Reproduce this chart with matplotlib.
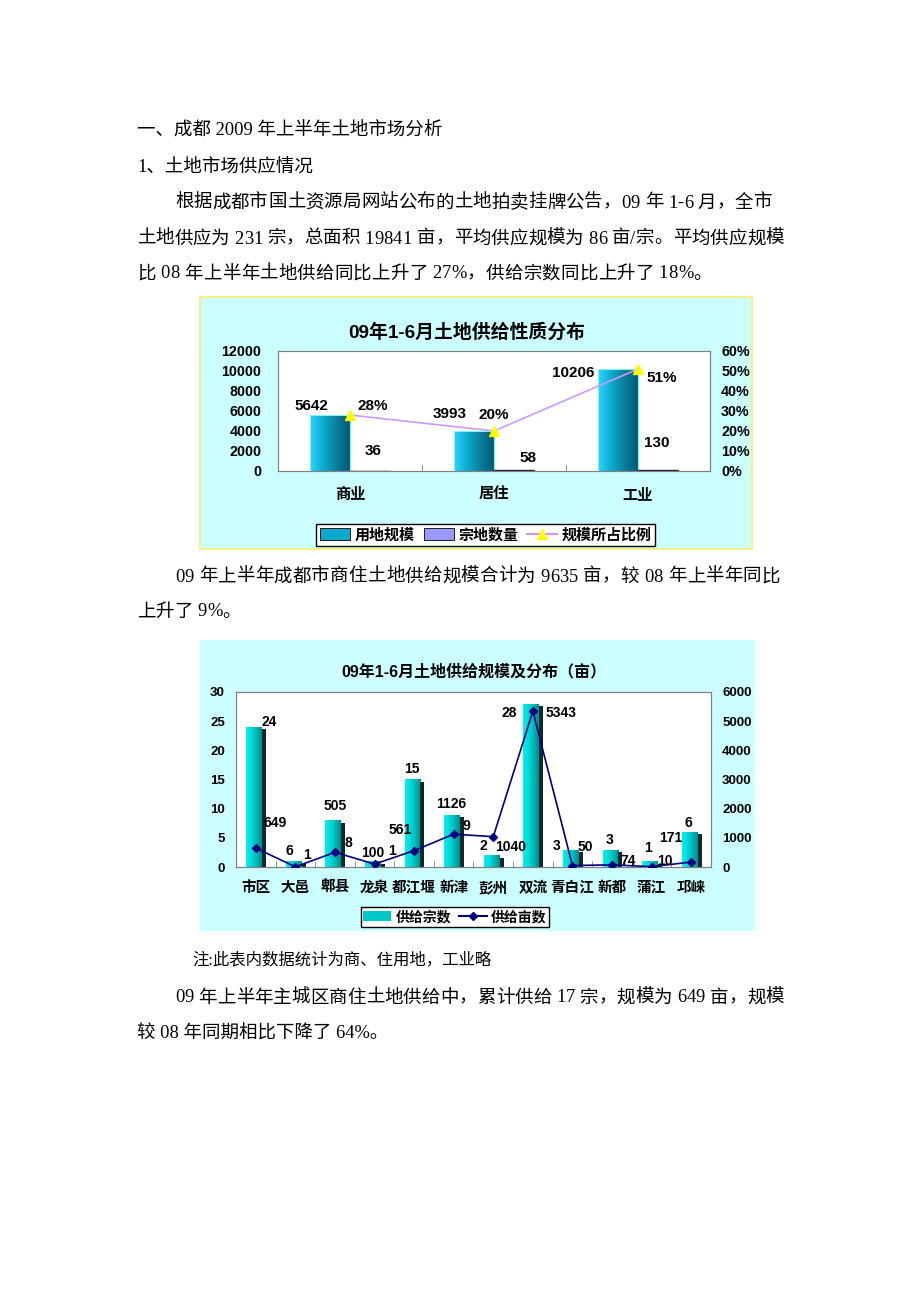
import numpy as np
import matplotlib
matplotlib.use("Agg")
import matplotlib.pyplot as plt
from matplotlib.colors import LinearSegmentedColormap
from matplotlib.patches import Patch
from matplotlib.lines import Line2D

# ---- data ----
supply_types = ['商业', '居住', '工业']
supply_area = [5642, 3993, 10206]
supply_count = [36, 58, 130]
supply_share = [0.28, 0.20, 0.51]

districts = ['市区', '大邑', '郫县', '龙泉', '都江堰', '新津', '彭州', '双流', '青白江', '新都', '蒲江', '邛崃']
district_count = [24, 1, 8, 1, 15, 9, 2, 28, 3, 3, 1, 6]
district_area = [649, 6, 505, 100, 561, 1126, 1040, 5343, 50, 74, 10, 171]

# label offsets in pixels (the source chart places them by hand)
area_off1 = [(-18, 9), (-24, 17), (-45, -4)]
share_off1 = [(23, 9), (0, 16), (24, -9)]
count_off1 = [(3, 20), (14, 12), (-1, 27)]
count_off2 = [(13, 5), (12, 6), (13, -23), (17, 10), (-2, 10), (13, -11),
              (-10, 9), (-24, -9), (-16, 4), (-2, 10), (-4, 13), (-3, 9)]
area_off2 = [(19, 25), (-6, 16), (0, 46), (-2, 11), (-14, 21), (-3, 30),
             (17, -10), (28, -2), (13, 19), (16, 4), (13, 6), (-20, 24)]

BODY_FONT = ['Liberation Serif', 'Noto Sans CJK SC']
CHART_FONT = ['Liberation Sans', 'Noto Sans CJK SC']

W, H = 920, 1302
fig = plt.figure(figsize=(W / 100, H / 100), dpi=100)
fig.patch.set_facecolor('white')


def fbox(x0, y0, x1, y1):
    return [x0 / W, 1 - y1 / H, (x1 - x0) / W, (y1 - y0) / H]


def put_line(s, x, y, size=13.3, x_end=None):
    # body text line; if x_end is given, spread the characters to fill it
    if x_end is None:
        fig.text(x / W, 1 - y / H, s, fontsize=size, family=BODY_FONT, va='center', ha='left')
        return
    r = fig.canvas.get_renderer()
    widths = []
    for ch in s:
        if ch == ' ':
            widths.append(size * 0.25 * 100 / 72)
            continue
        t = fig.text(0, 0, ch, fontsize=size, family=BODY_FONT)
        widths.append(t.get_window_extent(r).width)
        t.remove()
    gap = (x_end - x - sum(widths)) / (len(s) - 1)
    cx = x
    for ch, w in zip(s, widths):
        if ch != ' ':
            fig.text(cx / W, 1 - y / H, ch, fontsize=size, family=BODY_FONT, va='center', ha='left')
        cx += w + gap


def gradient_bar(ax, x, h, w, cmap, z=2):
    bar = ax.bar(x, h, w, align='edge', color='none', edgecolor='none', zorder=z)[0]
    grad = np.linspace(0, 1, 64).reshape(1, -1)
    im = ax.imshow(grad, extent=[x, x + w, 0, h], aspect='auto', cmap=cmap,
                   interpolation='bilinear', zorder=z)
    im.set_clip_path(bar)
    return bar


# ---- body text ----
put_line('一、成都 2009 年上半年土地市场分析', 137, 130)
put_line('1、土地市场供应情况', 137, 168)
put_line('根据成都市国土资源局网站公布的土地拍卖挂牌公告，09 年 1-6 月，全市', 175, 203, x_end=772)
put_line('土地供应为 231 宗，总面积 19841 亩，平均供应规模为 86 亩/宗。平均供应规模', 137, 239, x_end=784)
put_line('比 08 年上半年土地供给同比上升了 27%，供给宗数同比上升了 18%。', 137, 274, x_end=712)
put_line('09 年上半年成都市商住土地供给规模合计为 9635 亩，较 08 年上半年同比', 175, 577, x_end=780)
put_line('上升了 9%。', 137, 612, x_end=241)
put_line('注:此表内数据统计为商、住用地，工业略', 192, 960, size=11.8)
put_line('09 年上半年主城区商住土地供给中，累计供给 17 宗，规模为 649 亩，规模', 175, 998, x_end=784)
put_line('较 08 年同期相比下降了 64%。', 137, 1034)

# ---- chart 1 ----
bg1 = fig.add_axes(fbox(200, 297, 752, 549), zorder=0)
bg1.set_facecolor('#CCFFFF')
bg1.set_xticks([])
bg1.set_yticks([])
for s in bg1.spines.values():
    s.set_color('#F5F08A')
    s.set_linestyle((0, (2, 1)))
    s.set_linewidth(1.5)

fig.text(467 / W, 1 - 332 / H, '09年1-6月土地供给性质分布', fontsize=13.6, fontweight='bold',
         family=CHART_FONT, ha='center', va='center')

cmap1 = LinearSegmentedColormap.from_list('c1', ['#2AD4FF', '#0CA8CC', '#0A7C99', '#005A70'])
ax1 = fig.add_axes(fbox(278, 351, 710, 471), zorder=1)
ax1.set_facecolor('white')
x1 = np.arange(len(supply_types))
for i in range(len(supply_types)):
    gradient_bar(ax1, x1[i] - 0.28, supply_area[i], 0.28, cmap1)
    ax1.bar(x1[i] - 0.28, supply_area[i], 0.28, align='edge', color='none',
            edgecolor='#7FF5FF', linewidth=0.8, zorder=3)
ax1.bar(x1, supply_count, 0.28, align='edge', color='#9999FF', edgecolor='#202040',
        linewidth=1, zorder=3)
ax1.set_xlim(-0.5, 2.5)
ax1.set_ylim(0, 12000)
ax1.set_yticks(range(0, 12001, 2000))
ax1.set_xticks(x1)
ax1.set_xticklabels(supply_types)
ax1.set_xticks([0.5, 1.5], minor=True)
ax1.tick_params(axis='x', which='major', length=0, pad=12)
ax1.tick_params(axis='x', which='minor', length=4, direction='in', color='#808080')
ax1.tick_params(axis='y', length=0, pad=12)
for lab in ax1.get_xticklabels() + ax1.get_yticklabels():
    lab.set_fontweight('bold')
    lab.set_family(CHART_FONT)
    lab.set_fontsize(11 if lab in ax1.get_xticklabels() else 10.3)

ax1r = ax1.twinx()
ax1r.plot(x1, supply_share, color='#CC99FF', linewidth=1.2, marker='^', markersize=7,
          markerfacecolor='#FFFF00', markeredgecolor='#FFFF00', zorder=4)
ax1r.set_ylim(0, 0.6)
ax1r.set_yticks(np.arange(0, 0.61, 0.1))
ax1r.set_yticklabels([f'{v}%' for v in range(0, 61, 10)])
ax1r.tick_params(axis='y', length=0, pad=8)
for lab in ax1r.get_yticklabels():
    lab.set_fontweight('bold')
    lab.set_family(CHART_FONT)
    lab.set_fontsize(10.3)
for a in (ax1, ax1r):
    for s in a.spines.values():
        s.set_color('#808080')

lab_kw = dict(textcoords='offset pixels', ha='center', va='center', fontsize=11,
              fontweight='bold', family=CHART_FONT, zorder=6)
for i in range(len(supply_types)):
    ax1.annotate(str(supply_area[i]), (x1[i] - 0.14, supply_area[i]), xytext=area_off1[i], **lab_kw)
    ax1.annotate(str(supply_count[i]), (x1[i] + 0.14, supply_count[i]), xytext=count_off1[i], **lab_kw)
    ax1r.annotate(f'{round(supply_share[i] * 100)}%', (x1[i], supply_share[i]), xytext=share_off1[i], **lab_kw)

h1 = [Patch(facecolor='#0CA8CC', edgecolor='black', linewidth=0.6),
      Patch(facecolor='#9999FF', edgecolor='black', linewidth=0.6),
      Line2D([], [], color='#CC99FF', marker='^', markersize=7,
             markerfacecolor='#FFFF00', markeredgecolor='#FFFF00')]
leg1 = fig.legend(h1, ['用地规模', '宗地数量', '规模所占比例'], loc='center',
                  bbox_to_anchor=(486 / W, 1 - 535 / H), ncol=3, fancybox=False,
                  edgecolor='black', framealpha=1, borderpad=0.25, handlelength=2.0,
                  handleheight=0.9, handletextpad=0.3, columnspacing=0.6,
                  prop={'family': CHART_FONT, 'weight': 'bold', 'size': 10.8})
leg1.get_frame().set_linewidth(1)
leg1.set_zorder(5)

# ---- chart 2 ----
bg2 = fig.add_axes(fbox(200, 640, 755, 931), zorder=0)
bg2.set_facecolor('#CCFFFF')
bg2.set_xticks([])
bg2.set_yticks([])
for s in bg2.spines.values():
    s.set_visible(False)

fig.text(474 / W, 1 - 672 / H, '09年1-6月土地供给规模及分布（亩）', fontsize=11.5, fontweight='bold',
         family=CHART_FONT, ha='center', va='center')

cmap2 = LinearSegmentedColormap.from_list('c2', ['#00F0F0', '#00DADA', '#00B8B8', '#008C8C'])
ax2 = fig.add_axes(fbox(236, 692, 711, 867), zorder=1)
ax2.set_facecolor('white')
x2 = np.arange(len(districts))
for i in range(len(districts)):
    gradient_bar(ax2, x2[i] - 0.24, district_count[i], 0.4, cmap2)
    ax2.bar(x2[i] + 0.16, max(district_count[i] - 0.4, 0), 0.1, align='edge',
            color='#0B2B2B', edgecolor='none', zorder=2)
ax2.set_xlim(-0.5, 11.5)
ax2.set_ylim(0, 30)
ax2.set_yticks(range(0, 31, 5))
ax2.set_xticks(x2)
ax2.set_xticklabels(districts)
ax2.set_xticks(x2[:-1] + 0.5, minor=True)
ax2.tick_params(axis='x', which='major', length=0, pad=10)
ax2.tick_params(axis='x', which='minor', length=4, direction='in', color='#808080')
ax2.tick_params(axis='y', length=0, pad=8)
for lab in ax2.get_xticklabels():
    lab.set_fontweight('bold')
    lab.set_family(CHART_FONT)
    lab.set_fontsize(10.5)
for lab in ax2.get_yticklabels():
    lab.set_fontweight('bold')
    lab.set_family(CHART_FONT)
    lab.set_fontsize(9.5)

ax2r = ax2.twinx()
ax2r.plot(x2, district_area, color='#000080', linewidth=1.2, marker='D', markersize=4.5, zorder=4)
ax2r.set_ylim(0, 6000)
ax2r.set_yticks(range(0, 6001, 1000))
ax2r.tick_params(axis='y', length=0, pad=8)
for lab in ax2r.get_yticklabels():
    lab.set_fontweight('bold')
    lab.set_family(CHART_FONT)
    lab.set_fontsize(9.5)
for a in (ax2, ax2r):
    for s in a.spines.values():
        s.set_color('#808080')

lab_kw2 = dict(lab_kw, fontsize=10)
for i in range(len(districts)):
    ax2.annotate(str(district_count[i]), (x2[i], district_count[i]), xytext=count_off2[i], **lab_kw2)
    ax2r.annotate(str(district_area[i]), (x2[i], district_area[i]), xytext=area_off2[i], **lab_kw2)

h2 = [Patch(facecolor='#00C8C8', edgecolor='none'),
      Line2D([], [], color='#000080', marker='D', markersize=4.5)]
leg2 = fig.legend(h2, ['供给宗数', '供给亩数'], loc='center',
                  bbox_to_anchor=(455 / W, 1 - 917 / H), ncol=2, fancybox=False,
                  edgecolor='black', framealpha=1, borderpad=0.2, handlelength=2.0,
                  handleheight=0.8, handletextpad=0.3, columnspacing=0.6,
                  prop={'family': CHART_FONT, 'weight': 'bold', 'size': 10})
leg2.get_frame().set_linewidth(1)
leg2.set_zorder(5)

fig.savefig('out.png', dpi=100, facecolor='white')
